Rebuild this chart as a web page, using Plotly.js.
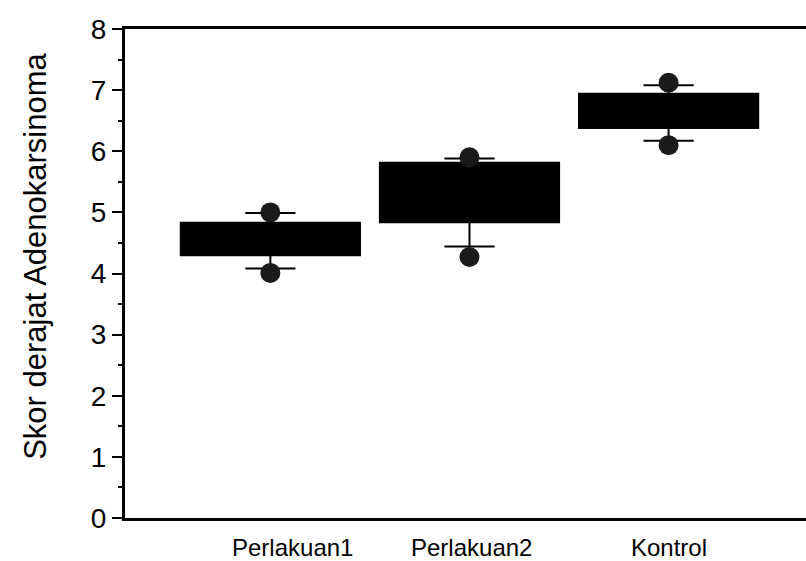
<!DOCTYPE html>
<html>
<head>
<meta charset="utf-8">
<script src="https://cdn.plot.ly/plotly-3.0.1.min.js"></script>
<style>html,body{margin:0;padding:0;background:#fff;}#chart{width:806px;height:561px;}</style>
</head>
<body>
<div id="chart"></div>
<script>
const categories = ['Perlakuan1', 'Perlakuan2', 'Kontrol'];
const q1Values = [4.30, 4.84, 6.38];
const medianValues = [4.55, 5.30, 6.65];
const q3Values = [4.83, 5.81, 6.94];
const lowerWhisker = [4.08, 4.44, 6.17];
const upperWhisker = [4.99, 5.88, 7.08];
const minPoints = [4.01, 4.27, 6.10];
const maxPoints = [5.00, 5.90, 7.12];
const yTickVals = [0, 1, 2, 3, 4, 5, 6, 7, 8];
const yTitle = 'Skor derajat Adenokarsinoma';
const labelShift = [22, 2, 0];

const boxTrace = {
  type: 'box',
  x: categories,
  q1: q1Values,
  median: medianValues,
  q3: q3Values,
  lowerfence: lowerWhisker,
  upperfence: upperWhisker,
  width: 0.9,
  whiskerwidth: 0.28,
  fillcolor: '#000',
  line: {color: '#000', width: 2},
  boxpoints: false,
  hoverinfo: 'skip',
  showlegend: false
};
const pointTrace = {
  type: 'scatter',
  mode: 'markers',
  x: categories.concat(categories),
  y: minPoints.concat(maxPoints),
  marker: {size: 20, color: '#1a1a1a', line: {width: 0}},
  hoverinfo: 'skip',
  showlegend: false
};

const fontFam = 'Liberation Sans, Arial, sans-serif';
const annotations = categories.map((c, i) => ({
  x: c, xref: 'x', y: 0, yref: 'paper',
  yanchor: 'top', xanchor: 'center',
  xshift: labelShift[i], yshift: -14,
  text: c, showarrow: false,
  font: {size: 24, color: '#000', family: fontFam}
}));
annotations.push({
  xref: 'paper', x: 0, xanchor: 'center', xshift: -89,
  yref: 'paper', y: 0.534, yanchor: 'middle',
  text: yTitle, textangle: -90, showarrow: false,
  font: {size: 31, color: '#000', family: fontFam}
});

const layout = {
  width: 806, height: 561,
  margin: {l: 125, r: 0, t: 29, b: 43},
  paper_bgcolor: '#fff', plot_bgcolor: '#fff',
  font: {family: fontFam, color: '#000'},
  showlegend: false,
  annotations: annotations,
  xaxis: {
    type: 'category',
    categoryorder: 'array', categoryarray: categories,
    range: [-0.73, 2.69],
    showline: true, linewidth: 3, linecolor: '#000', mirror: true,
    ticks: '', showgrid: false, zeroline: false,
    showticklabels: false
  },
  yaxis: {
    range: [0, 8],
    tickvals: yTickVals,
    ticks: 'outside', ticklen: 10, tickwidth: 2, tickcolor: '#000',
    minor: {dtick: 0.5, ticks: 'outside', ticklen: 4, tickwidth: 2, tickcolor: '#000', showgrid: false},
    showline: true, linewidth: 3, linecolor: '#000',
    showgrid: false, zeroline: false,
    tickfont: {size: 28, color: '#000'}
  }
};

Plotly.newPlot('chart', [boxTrace, pointTrace], layout, {staticPlot: true, displayModeBar: false});
</script>
</body>
</html>
